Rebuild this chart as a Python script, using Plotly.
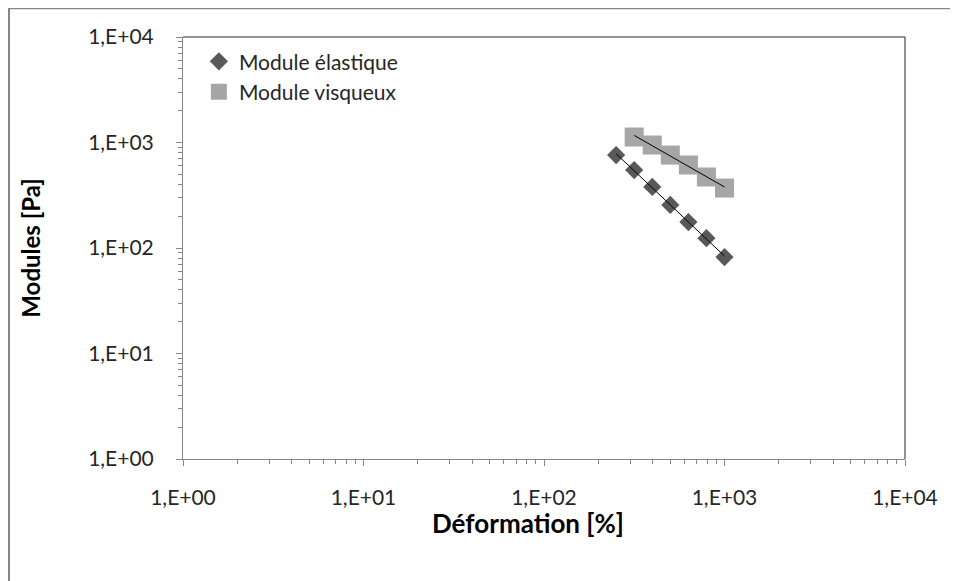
import numpy as np
import plotly.graph_objects as go

# Data
x_elastic = [251, 316, 398, 501, 631, 794, 1000]
y_elastic = [760, 548, 379, 256, 176, 124, 82]
x_visqueux = [316, 398, 501, 631, 794, 1000]
y_visqueux = [1127, 946, 760, 612, 471, 370]

tick_vals = [1, 10, 100, 1000, 10000]
tick_text = ["1,E+00", "1,E+01", "1,E+02", "1,E+03", "1,E+04"]
minor_vals = [m * 10 ** k for k in range(4) for m in range(2, 10)]

x_title = "Déformation [%]"
y_title = "Modules [Pa]"

FONT = "Lato"


def power_fit(xs, ys):
    lx, ly = np.log10(xs), np.log10(ys)
    b, a = np.polyfit(lx, ly, 1)
    xf = np.array([min(xs), max(xs)], dtype=float)
    return xf, 10 ** (a + b * np.log10(xf))


fig = go.Figure()
fig.add_trace(go.Scatter(
    x=x_elastic, y=y_elastic, mode="markers", name="Module élastique",
    marker=dict(symbol="diamond", size=14, color="#595959"),
))
fig.add_trace(go.Scatter(
    x=x_visqueux, y=y_visqueux, mode="markers", name="Module visqueux",
    marker=dict(symbol="square", size=19, color="#A6A6A6"),
))
for xs, ys in [(x_elastic, y_elastic), (x_visqueux, y_visqueux)]:
    xf, yf = power_fit(xs, ys)
    fig.add_trace(go.Scatter(x=xf, y=yf, mode="lines", showlegend=False,
                             line=dict(color="black", width=1), hoverinfo="skip"))

axis_common = dict(
    type="log", showgrid=False, zeroline=False,
    showline=True, linecolor="#868686", linewidth=1,
    ticks="outside", ticklen=6, tickcolor="#868686",
    tickvals=tick_vals, ticktext=tick_text,
    tickfont=dict(family=FONT, size=21, color="#262626"),
    minor=dict(ticks="outside", ticklen=4, tickcolor="#868686", showgrid=False,
               tickvals=minor_vals),
)

fig.update_layout(
    width=950, height=573,
    margin=dict(l=175, r=53, t=29, b=122),
    paper_bgcolor="white", plot_bgcolor="white",
    font=dict(family=FONT, color="#262626"),
    showlegend=True,
    legend=dict(x=0.022, y=0.99, xanchor="left", yanchor="top",
                bgcolor="rgba(0,0,0,0)", font=dict(family=FONT, size=21, color="#262626"),
                itemwidth=30, tracegroupgap=0),
    xaxis=dict(axis_common, range=[0, 4], ticklabelstandoff=14),
    yaxis=dict(axis_common, range=[0, 4], ticklabelstandoff=18,
               title=dict(text="<b>" + y_title + "</b>", standoff=40,
                          font=dict(family=FONT, size=24, color="black"))),
    annotations=[
        dict(text="<b>" + x_title + "</b>", xref="paper", yref="paper",
             x=0.478, y=-0.152, xanchor="center", yanchor="middle", showarrow=False,
             font=dict(family=FONT, size=26, color="black")),
    ],
    shapes=[
        dict(type="line", xref="paper", yref="paper", x0=0, x1=1, y0=1, y1=1,
             line=dict(color="#262626", width=1)),
        dict(type="line", xref="paper", yref="paper", x0=1, x1=1, y0=0, y1=1,
             line=dict(color="#262626", width=1)),
        dict(type="rect", xref="paper", yref="paper", x0=-0.2410, x1=1.2, y0=-0.5, y1=1.068,
             line=dict(color="#868686", width=2), fillcolor="rgba(0,0,0,0)"),
    ],
)

fig.write_html("out.html")
